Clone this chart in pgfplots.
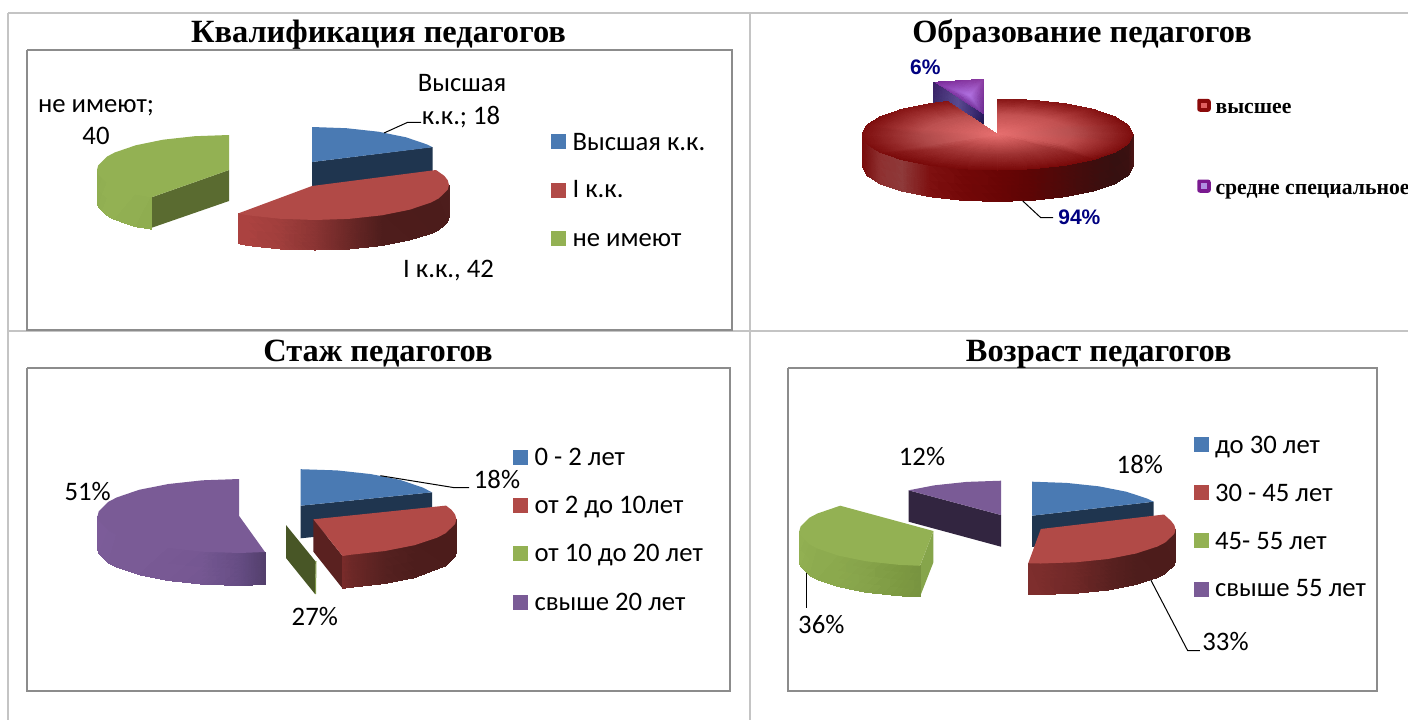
\documentclass[border=0pt]{standalone}
\usepackage{pgfplots}
\pgfplotsset{compat=1.18}
\usepackage{fontspec}
\setmainfont{Liberation Serif}
\newfontfamily\calib{Carlito}
\newfontfamily\hel{Liberation Sans}
\definecolor{bl}{HTML}{4A7AB3}
\definecolor{blw}{HTML}{1F354F}
\definecolor{rd}{HTML}{B14A47}
\definecolor{rdw}{HTML}{5A2120}
\definecolor{gn}{HTML}{93B153}
\definecolor{gnw}{HTML}{5A6B30}
\definecolor{gnr}{HTML}{86A54B}
\definecolor{pu}{HTML}{7A5B96}
\definecolor{puw}{HTML}{322540}
\definecolor{tline}{HTML}{C4C4C4}
\definecolor{frame}{HTML}{8C8C8C}
\definecolor{navy}{HTML}{000080}
\definecolor{lga}{HTML}{E06060}
\definecolor{lgb}{HTML}{8B0A0A}
\definecolor{lgc}{HTML}{B090E0}
\definecolor{lgd}{HTML}{7A1A90}
\newcommand\ttl[2]{\node[font=\fontsize{32.4}{34}\selectfont\bfseries,text height=22pt,text depth=6.5pt] at (axis cs:#1) {#2};}
\newcommand\lbl[2]{\node[font=\calib\fontsize{26.7}{29}\selectfont,text height=18.7pt,text depth=5.3pt] at (axis cs:#1) {#2};}
\newcommand\leg[2]{\node[anchor=west,font=\calib\fontsize{26.7}{29}\selectfont,text height=18.7pt,text depth=5.3pt] at (axis cs:#1) {#2};}
\newcommand\lgs[2]{\node[anchor=west,font=\bfseries\fontsize{21.7}{24}\selectfont,text height=15pt,text depth=4.4pt] at (axis cs:#1) {#2};}
\pgfplotsset{
  wall/.style={surf,shader=interp,mesh/color input=explicit},
  top/.style={fill=#1,draw=none},
  lead/.style={black,line width=1pt},
}
\begin{document}
\begin{tikzpicture}
\useasboundingbox (0,0) rectangle (1408pt,720pt);
\begin{axis}[at={(0,0)},anchor=south west,scale only axis,width=1408pt,height=720pt,
  xmin=0,xmax=1408,ymin=0,ymax=720,y dir=reverse,hide axis,clip=true]
% table rules
\addplot[tline,line width=2pt] coordinates {(8,13) (1408,13)};
\addplot[tline,line width=2pt] coordinates {(8,13) (8,720)};
\addplot[tline,line width=2pt] coordinates {(8,331) (1408,331)};
\addplot[tline,line width=2pt] coordinates {(750,13) (750,720)};
% frames
\addplot[frame,line width=1.6pt] coordinates {(27,50) (732,50) (732,330) (27,330) (27,50)};
\addplot[frame,line width=1.6pt] coordinates {(27,368) (730,368) (730,691) (27,691) (27,368)};
\addplot[frame,line width=1.6pt] coordinates {(788,368) (1377,368) (1377,691) (788,691) (788,368)};

% ---------- Q1
\addplot[top=blw] coordinates {(312,162) (432.5,147) (432.5,172) (312,187)};
\addplot[top=bl] coordinates {(312,127) (346.4,128.2) (378.5,131.7) (406,137.3) (427.2,144.5) (432.5,147.2) (312,162)};
\addplot[top=gnw] coordinates {(229,170) (229,201) (151,228) (151,197.5)};
\addplot[wall,mesh/cols=7] table[meta=c] {
x y c
97 170 HTML=8FAD50
98.2 174.6 HTML=90AE51
107 183.4 HTML=93B153
114.7 187.5 HTML=93B153
135.7 194.7 HTML=91AF52
151 197.5 HTML=8FAD50
151 197.5 HTML=8FAD50
97 202 HTML=8FAD50
98.2 206.6 HTML=90AE51
107 215.4 HTML=93B153
114.7 219.5 HTML=93B153
135.7 226.7 HTML=91AF52
151 229 HTML=8FAD50
151 229 HTML=8FAD50
};
\addplot[top=gn] coordinates {(229,135) (194.8,136.2) (163,139.7) (135.7,145.3) (114.7,152.5) (107,156.6) (98.2,165.4) (97,170) (98.2,174.6) (107,183.4) (114.7,187.5) (135.7,194.7) (151,197.5) (229,170)};
\addplot[wall,mesh/cols=12] table[meta=c] {
x y c
449 185 HTML=4F1F1E
447.8 189.6 HTML=4D1D1C
438.8 198.4 HTML=4C1C1B
431 202.5 HTML=4C1C1B
409.7 209.7 HTML=4D1C1B
382 215.3 HTML=4E1D1C
349.7 218.8 HTML=6A2726
315 220 HTML=8A3433
280.3 218.8 HTML=A03E3C
248 215.3 HTML=AB4240
238 213.5 HTML=AB4240
238 213.5 HTML=AB4240
449 217 HTML=4F1F1E
447.8 221.6 HTML=4D1D1C
438.8 230 HTML=4C1C1B
431 233.5 HTML=4C1C1B
409.7 240 HTML=4D1C1B
382 245.5 HTML=4E1D1C
349.7 249 HTML=6A2726
315 250 HTML=8A3433
280.3 249 HTML=A03E3C
248 245.5 HTML=AB4240
238 243.5 HTML=AB4240
238 243.5 HTML=AB4240
};
\addplot[top=rd] coordinates {(436,170) (444.4,175.9) (447.8,180.4) (449,185) (447.8,189.6) (438.8,198.4) (431,202.5) (409.7,209.7) (382,215.3) (349.7,218.8) (315,220) (280.3,218.8) (248,215.3) (238,213.5) (312,186)};
\addplot[lead] coordinates {(384,133) (407.7,122.3) (421,122.3)};
\ttl{378.5,35}{Квалификация педагогов}
\lbl{462,85}{Высшая}
\lbl{461,117.3}{к.к.; 18}
\lbl{96,105.5}{не имеют;}
\lbl{96,137.3}{40}
\lbl{448.6,270.6}{I к.к., 42}
\addplot[top=bl] coordinates {(551,134.3) (566,134.3) (566,149) (551,149)};
\addplot[top=rd] coordinates {(551,183.3) (566,183.3) (566,198.3) (551,198.3)};
\addplot[top=gn] coordinates {(551,231) (566,231) (566,246) (551,246)};
\leg{569,143.3}{Высшая к.к.}
\leg{569,190.6}{I к.к.}
\leg{569,239.3}{не имеют}

% ---------- Q2
\addplot[patch,shader=interp,mesh/color input=explicit] table[meta=c] {
x y c
933.4 82.3 HTML=7A2A9A
983.3 79.3 HTML=8A3AA0
970 95 HTML=B070E0
983.3 79.3 HTML=8A3AA0
983.3 115 HTML=6A2A90
970 95 HTML=B070E0
983.3 115 HTML=6A2A90
933.4 82.3 HTML=7A2A9A
970 95 HTML=B070E0
};
\addplot[wall,mesh/cols=3] table[meta=c] {
x y c
933.4 82.3 HTML=3A1F66
958 98.6 HTML=5A4A90
983.3 115 HTML=2A1A60
933.4 102.7 HTML=3A2A6A
958 113 HTML=5A4A90
983.3 123.5 HTML=22184F
};
\addplot[wall,mesh/cols=13] table[meta=c] {
x y c
1133 134.5 HTML=4A1414
1128.4 143.7 HTML=3A1010
1114.8 152.3 HTML=361010
1093.3 159.6 HTML=3E0D0D
1065.3 165.2 HTML=4C0A0A
1032.6 168.8 HTML=5C0505
997.5 170 HTML=6A0505
962.4 168.8 HTML=730808
929.7 165.2 HTML=7E1010
901.7 159.6 HTML=8E3A3A
880.2 152.3 HTML=8E3030
866.6 143.7 HTML=7C1414
862 134.5 HTML=7A0A0A
1133 166 HTML=4A1414
1128.4 175.2 HTML=3A1010
1114.8 183.8 HTML=361010
1093.3 191.1 HTML=3E0D0D
1065.3 196.7 HTML=4C0A0A
1032.6 200.3 HTML=5C0505
997.5 201.5 HTML=6A0505
962.4 200.3 HTML=730808
929.7 196.7 HTML=7E1010
901.7 191.1 HTML=8E3A3A
880.2 183.8 HTML=8E3030
866.6 175.2 HTML=7C1414
862 166 HTML=7A0A0A
};
\addplot[wall,mesh/cols=24] table[meta=c] {
x y c
997.5 99 HTML=861414
1032.6 100.2 HTML=861414
1065.3 103.8 HTML=861414
1093.3 109.4 HTML=861414
1114.8 116.8 HTML=7E0E0E
1128.4 125.3 HTML=7E0E0E
1133 134.5 HTML=7E0E0E
1128.4 143.7 HTML=7E0E0E
1114.8 152.3 HTML=7E0E0E
1093.3 159.6 HTML=7A0A0A
1065.3 165.2 HTML=7A0A0A
1032.6 168.8 HTML=7A0A0A
997.5 170 HTML=7A0A0A
962.4 168.8 HTML=7A0A0A
929.7 165.2 HTML=7A0A0A
901.7 159.6 HTML=7A0A0A
880.2 152.3 HTML=7E0E0E
866.6 143.7 HTML=7E0E0E
862 134.5 HTML=7E0E0E
866.6 125.3 HTML=7E0E0E
880.2 116.8 HTML=7E0E0E
901.7 109.4 HTML=861414
929.7 103.8 HTML=861414
947.6 101.5 HTML=861414
997.5 115 HTML=C45252
1016.8 115.7 HTML=C45252
1034.8 117.6 HTML=C45252
1050.2 120.7 HTML=C45252
1062 124.75 HTML=C05050
1069.5 129.45 HTML=B85050
1072 134.5 HTML=B85050
1069.5 139.55 HTML=C05050
1062 144.25 HTML=C05050
1050.2 148.3 HTML=A03434
1034.8 151.4 HTML=A03434
1016.8 153.3 HTML=A03434
997.5 154 HTML=A03434
978.2 153.3 HTML=A03434
960.2 151.4 HTML=A03434
944.8 148.3 HTML=A03434
933 144.25 HTML=B04A4A
925.5 139.55 HTML=B04A4A
923 134.5 HTML=B04A4A
925.5 129.45 HTML=BC5050
933 124.75 HTML=BC5050
944.8 120.7 HTML=BC5050
960.2 117.6 HTML=BC5050
970.1 116.4 HTML=BC5050
997.5 134.5 HTML=E87070
997.5 134.5 HTML=E87070
997.5 134.5 HTML=E87070
997.5 134.5 HTML=E87070
997.5 134.5 HTML=E87070
997.5 134.5 HTML=E87070
997.5 134.5 HTML=E87070
997.5 134.5 HTML=E87070
997.5 134.5 HTML=E87070
997.5 134.5 HTML=E87070
997.5 134.5 HTML=E87070
997.5 134.5 HTML=E87070
997.5 134.5 HTML=E87070
997.5 134.5 HTML=E87070
997.5 134.5 HTML=E87070
997.5 134.5 HTML=E87070
997.5 134.5 HTML=E87070
997.5 134.5 HTML=E87070
997.5 134.5 HTML=E87070
997.5 134.5 HTML=E87070
997.5 134.5 HTML=E87070
997.5 134.5 HTML=E87070
997.5 134.5 HTML=E87070
997.5 134.5 HTML=E87070
};
\addplot[lead] coordinates {(1022.8,201) (1040.8,217.7) (1053,217.7)};
\ttl{1082,35}{Образование педагогов}
\node[font=\hel\bfseries\fontsize{21}{23}\selectfont,text=navy] at (axis cs:925.4,67.7) {6\%};
\node[font=\hel\bfseries\fontsize{21}{23}\selectfont,text=navy] at (axis cs:1079.4,217.3) {94\%};
\addplot[fill=lgb,draw=lgb,line width=1.5pt,rounded corners=2pt] coordinates {(1198,99.7) (1210,99.7) (1210,111) (1198,111) (1198,99.7)};
\addplot[top=lga] coordinates {(1201,102.7) (1207,102.7) (1207,108) (1201,108)};
\addplot[fill=lgd,draw=lgd,line width=1.5pt,rounded corners=2pt] coordinates {(1198,180.3) (1210,180.3) (1210,192) (1198,192) (1198,180.3)};
\addplot[top=lgc] coordinates {(1201,183.3) (1207,183.3) (1207,189) (1201,189)};
\lgs{1212,107.7}{высшее}
\lgs{1212,188.7}{средне специальное}

% ---------- Q3
\addplot[top=blw] coordinates {(300.5,505.7) (432,492.3) (432,525) (300.5,538.3)};
\addplot[top=bl] coordinates {(300.5,469.2) (337,470.4) (371,474.1) (400.2,479.9) (422.6,487.5) (432,492.3) (300.5,505.7)};
\addplot[top=gnw!80!black] coordinates {(286,525) (315.8,561.7) (315,594) (286,558)};
\addplot[gn!85!black,line width=1pt] coordinates {(316,561) (315.5,594)};
\addplot[wall,mesh/cols=9] table[meta=c] {
x y c
97.6 516 HTML=7C5C99
98.8 520.8 HTML=7C5C99
108.4 530.2 HTML=7B5C98
116.6 534.5 HTML=7A5B96
139.1 542.2 HTML=7A5B96
168.4 548 HTML=785994
202.5 551.7 HTML=755792
239.2 553 HTML=664D84
265 552 HTML=533F6C
97.6 548.5 HTML=7C5C99
98.8 553.3 HTML=7C5C99
108.4 562.7 HTML=7B5C98
116.6 567 HTML=7A5B96
139.1 574.7 HTML=7A5B96
168.4 580.5 HTML=785994
202.5 584.2 HTML=755792
239.2 585.5 HTML=664D84
265 584.5 HTML=533F6C
};
\addplot[top=pu] coordinates {(239.2,479) (202.5,480.3) (168.4,484) (139.1,489.8) (116.6,497.5) (108.4,501.8) (98.8,511.2) (97.6,516) (98.8,520.8) (108.4,530.2) (116.6,534.5) (139.1,542.2) (168.4,548) (202.5,551.7) (239.2,553) (265,552) (239.2,516)};
\addplot[top=rdw] coordinates {(313.4,519.3) (342.6,556) (342.6,588.5) (313.4,551.7)};
\addplot[wall,mesh/cols=8] table[meta=c] {
x y c
456.4 519.3 HTML=4D1C1B
455.1 524.1 HTML=4D1C1B
445.5 533.3 HTML=4C1C1B
414.5 545.2 HTML=4D1D1C
385 551 HTML=552120
350.4 554.8 HTML=6E2827
342.6 556 HTML=782B2A
342.6 556 HTML=782B2A
456.4 552 HTML=4D1C1B
455.1 556.6 HTML=4D1C1B
445.5 565.8 HTML=4C1C1B
414.5 577.7 HTML=4D1D1C
385 583.5 HTML=552120
350.4 587.3 HTML=6E2827
342.6 588.5 HTML=782B2A
342.6 588.5 HTML=782B2A
};
\addplot[top=rd] coordinates {(446,505.6) (451.5,509.8) (455.1,514.5) (456.4,519.3) (455.1,524.1) (445.5,533.3) (437.2,537.6) (414.5,545.2) (385,551) (350.4,554.8) (342.6,556) (313.4,519.3)};
\addplot[lead] coordinates {(380.4,475.7) (454.5,487.7) (469,487.7)};
\ttl{378,354}{Стаж педагогов}
\lbl{497,481.6}{18\%}
\lbl{87.6,493.3}{51\%}
\lbl{314.8,618.3}{27\%}
\addplot[top=bl] coordinates {(513.4,450) (528.2,450) (528.2,465) (513.4,465)};
\addplot[top=rd] coordinates {(513.4,498) (528.2,498) (528.2,513) (513.4,513)};
\addplot[top=gn] coordinates {(513.4,546) (528.2,546) (528.2,561) (513.4,561)};
\addplot[top=pu] coordinates {(513.4,595) (528.2,595) (528.2,610) (513.4,610)};
\leg{531,458.3}{0 - 2 лет}
\leg{531,506.6}{от 2 до 10лет}
\leg{531,555}{от 10 до 20 лет}
\leg{531,603.3}{свыше 20 лет}

% ---------- Q4
\addplot[top=puw] coordinates {(1001,515) (908.6,490.3) (908.6,521.7) (1001,546.7)};
\addplot[top=pu] coordinates {(1001,480.7) (966.6,481.9) (934.5,485.3) (908.6,490.3) (1001,515)};
\addplot[top=blw] coordinates {(1032,515.7) (1153.7,501.7) (1153.7,530) (1032,547)};
\addplot[top=bl] coordinates {(1032,481.7) (1066.5,482.9) (1098.7,486.3) (1126.3,491.7) (1147.5,498.7) (1153.7,501.7) (1032,515.7)};
\addplot[wall,mesh/cols=9] table[meta=c] {
x y c
1175.5 529.5 HTML=4E1D1C
1174.3 533.9 HTML=4E1D1C
1165.2 542.5 HTML=4D1C1B
1157.5 546.5 HTML=4D1C1B
1136 553.5 HTML=4E1D1C
1108.1 559 HTML=5A2120
1075.7 562.3 HTML=6F2827
1040.8 563.5 HTML=7C2D2C
1028.2 563.4 HTML=7E2E2D
1175.5 560.5 HTML=4E1D1C
1174.3 564.9 HTML=4E1D1C
1165.2 573.5 HTML=4D1C1B
1157.5 577.5 HTML=4D1C1B
1136 584.5 HTML=4E1D1C
1108.1 590 HTML=5A2120
1075.7 593.3 HTML=6F2827
1040.8 594.5 HTML=7C2D2C
1028.2 594.4 HTML=7E2E2D
};
\addplot[top=rd] coordinates {(1164,514.5) (1170.9,520.7) (1174.3,525.1) (1175.5,529.5) (1174.3,533.9) (1165.2,542.5) (1157.5,546.5) (1136,553.5) (1108.1,559) (1075.7,562.3) (1040.8,563.5) (1028.2,563.4) (1040.8,529)};
\addplot[top=gnr] coordinates {(933.4,531) (920,566) (920,596.7) (933.4,562.3)};
\addplot[wall,mesh/cols=8] table[meta=c] {
x y c
799.4 531 HTML=93B153
800.6 535.6 HTML=92B052
809.6 544.4 HTML=8FAD50
817.4 548.5 HTML=8DAB4F
838.6 555.7 HTML=8BA94D
866.4 561.3 HTML=86A34A
898.7 564.8 HTML=7D9A42
920 565.8 HTML=789440
799.4 562 HTML=93B153
800.6 566.6 HTML=92B052
809.6 575.4 HTML=8FAD50
817.4 579.5 HTML=8DAB4F
838.6 586.7 HTML=8BA94D
866.4 592.3 HTML=86A34A
898.7 595.8 HTML=7D9A42
920 596.8 HTML=789440
};
\addplot[top=gn] coordinates {(840.2,505.7) (817.4,513.5) (809.6,517.6) (800.6,526.4) (799.4,531) (800.6,535.6) (809.6,544.4) (817.4,548.5) (838.6,555.7) (866.4,561.3) (898.7,564.8) (920,565.8) (933.4,531)};
\addplot[lead] coordinates {(1150.8,580) (1187.7,650.7) (1199.9,650.7)};
\addplot[lead] coordinates {(806.2,573.3) (806.2,607.7)};
\ttl{1098.7,354}{Возраст педагогов}
\lbl{1139.8,466.6}{18\%}
\lbl{922,459}{12\%}
\lbl{821.3,626.6}{36\%}
\lbl{1225.5,643.3}{33\%}
\addplot[top=bl] coordinates {(1194,437) (1208.7,437) (1208.7,452) (1194,452)};
\addplot[top=rd] coordinates {(1194,485) (1208.7,485) (1208.7,500) (1194,500)};
\addplot[top=gn] coordinates {(1194,533) (1208.7,533) (1208.7,548) (1194,548)};
\addplot[top=pu] coordinates {(1194,582) (1208.7,582) (1208.7,597) (1194,597)};
\leg{1211.5,446.6}{до 30 лет}
\leg{1211.5,494.3}{30 - 45 лет}
\leg{1211.5,542.3}{45- 55 лет}
\leg{1211.5,590}{свыше 55 лет}
\end{axis}
\end{tikzpicture}
\end{document}
